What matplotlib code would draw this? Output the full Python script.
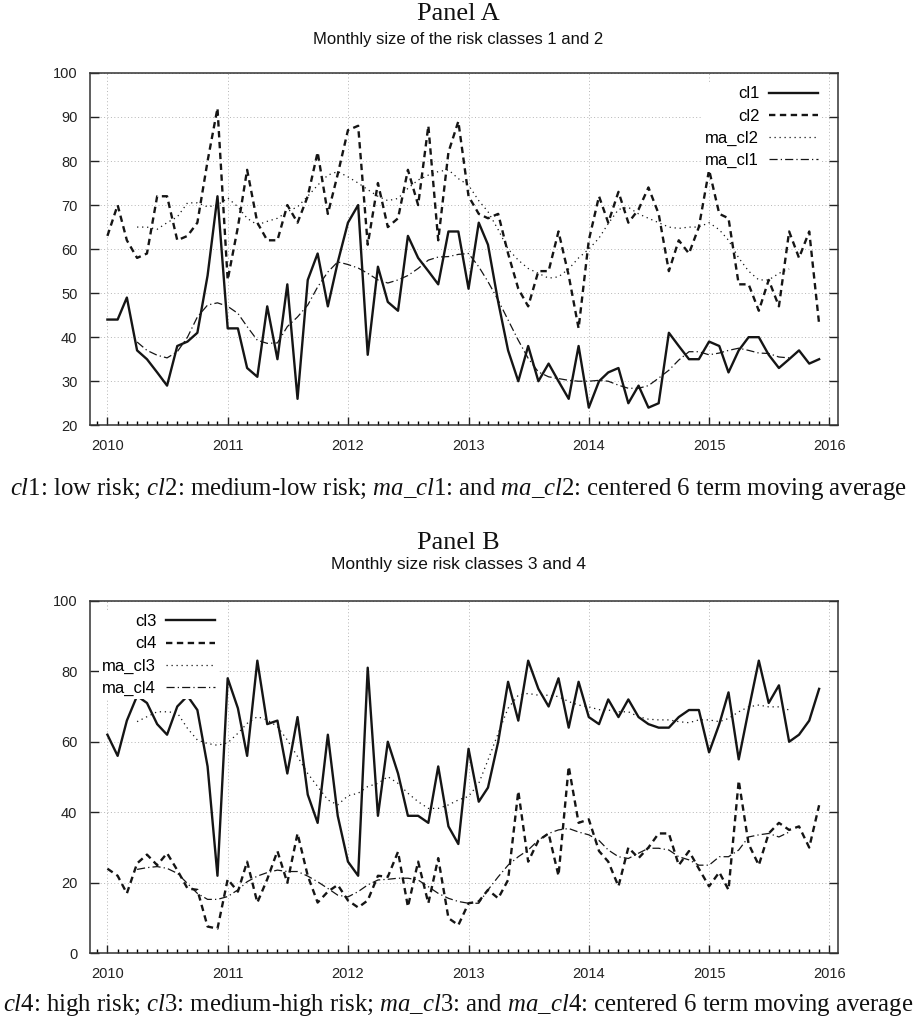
import matplotlib
matplotlib.use("Agg")
import matplotlib.pyplot as plt
import matplotlib.dates as mdates
import pandas as pd

plt.rcParams['mathtext.fontset'] = 'custom'
plt.rcParams['mathtext.rm'] = 'Liberation Serif'
plt.rcParams['mathtext.it'] = 'Liberation Serif:italic'

# Monthly observations, Jan 2010 - Dec 2015
dates = pd.date_range("2010-01-01", periods=72, freq="MS")
# centered 6 term moving average: Apr 2010 - Sep 2015
ma_dates = dates[3:69]

cl1 = [44, 44, 49, 37, 35, 32, 29, 38, 39, 41, 54, 72,
       42, 42, 33, 31, 47, 35, 52, 26, 53, 59, 47, 57,
       66, 70, 36, 56, 48, 46, 63, 58, 55, 52, 64, 64,
       51, 66, 61, 48, 37, 30, 38, 30, 34, 30, 26, 38,
       24, 30, 32, 33, 25, 29, 24, 25, 41, 38, 35, 35,
       39, 38, 32, 37, 40, 40, 36, 33, 35, 37, 34, 35]
cl2 = [63, 70, 62, 58, 59, 72, 72, 62, 63, 66, 80, 92,
       53, 65, 78, 66, 62, 62, 70, 66, 72, 82, 68, 77,
       87, 88, 61, 75, 65, 67, 78, 70, 88, 62, 82, 89,
       72, 68, 67, 68, 59, 51, 47, 55, 55, 64, 54, 42,
       62, 72, 66, 73, 66, 69, 74, 68, 55, 62, 59, 65,
       78, 68, 67, 52, 52, 46, 53, 47, 64, 58, 64, 43]
ma_cl2 = [65, 65, 64.5, 66, 67.3, 70.5, 70.5, 69.6, 70,
          71.6, 69.6, 67, 65.5, 66.3, 67, 68.5, 69.6, 72, 74.5, 76.8, 77.6,
          76.4, 75, 73.5, 72, 71, 71.5, 73.8, 75.7, 76.8, 77.6, 78, 76,
          74.5, 71, 68.5, 64.4, 60, 57.5, 55.6, 54.5, 53.4, 53.7, 55.5, 58,
          60, 62.5, 65.8, 69, 69.5, 68, 67, 66, 65, 64.7, 65, 65,
          66, 64.4, 62, 58, 55, 53, 53, 54.5, 55.5]
ma_cl1 = [38.9, 37, 35.9, 35.3, 36.7, 40, 44.6, 47.3, 47.8,
          47, 45.4, 42.4, 39.3, 38.6, 38.7, 42.4, 44.6, 47.3, 51.4, 54.8, 57.1,
          56.5, 55.7, 54.5, 53, 52.3, 53, 54, 55.6, 57.5, 58.2, 58.3, 58.8,
          59, 56, 52.6, 48.4, 43.9, 39.3, 35.2, 32.1, 31, 30.6, 30.2, 30,
          30, 30.2, 30, 29.1, 28.4, 28.4, 29, 30.7, 32.5, 34.8, 36.7, 36.7,
          36, 36.4, 37, 37.5, 37, 36.4, 36.3, 35.5, 35.3]

cl3 = [62, 56, 66, 73, 71, 65, 62, 70, 73, 69, 53, 22,
       78, 69.5, 56, 83, 65, 66, 51, 67, 45, 37, 62, 39,
       26, 22, 81, 39, 60, 51, 39, 39, 37, 53, 36, 31,
       58, 43, 47, 60, 77, 66, 83, 75, 70, 78, 64, 77,
       67, 65, 72, 67, 72, 67, 65, 64, 64, 67, 69, 69,
       57, 65, 74, 55, 69, 83, 71, 76, 60, 62, 66, 75]
cl4 = [24, 22, 17, 25.5, 28, 25, 28.4, 23.6, 18.4, 18, 7.6, 7,
       21, 17.5, 26, 14.4, 21, 29, 20, 34, 22, 14.4, 17.5, 19.4,
       15, 13, 15, 22, 21.7, 28.8, 13.2, 26, 14.2, 27, 10, 8,
       14.2, 14.7, 18, 15.6, 20.8, 46, 26, 32, 34, 22, 53, 37,
       38, 29, 26, 19, 30, 27, 30, 34, 34, 25, 29, 24,
       19, 23, 18, 49, 31, 25, 34, 37, 35, 36, 30, 42]
ma_cl3 = [65.7, 67.1, 68.5, 68.5, 68.2, 63.8, 60.5, 59.5, 59,
          59.7, 62.4, 65.2, 67.1, 66.2, 64.3, 60.5, 55.8, 51, 47.3, 43.5, 42.1,
          44.7, 45.4, 47.3, 48.2, 50.1, 48.2, 45.4, 43, 41.1, 41.1, 42.1, 43.5,
          44.5, 48.2, 54.8, 62.4, 69.5, 73.2, 73.7, 73.2, 73.2, 72.8, 71.4, 70.4,
          69.9, 69.1, 69, 68.5, 68.5, 67.1, 66.4, 66.2, 66.2, 65.7, 65.4, 66.2,
          66.2, 65.7, 66.6, 68.5, 69.9, 70.4, 69.9, 69.9, 69]
ma_cl4 = [23.8, 24.3, 24.6, 24.1, 22.7, 19.8, 17, 15.3, 15.3,
          16.1, 18, 20.3, 21.9, 22.9, 23.6, 23.2, 23.2, 21.9, 20.3, 18.4, 16.5,
          16, 17.5, 19.4, 20.8, 21, 21.3, 21.3, 20.8, 18.9, 17, 15.6, 14.7,
          14.2, 14.2, 18, 21.7, 25, 27.4, 29.3, 32.1, 34, 35, 35.4, 34.4,
          33.6, 32, 29.3, 27.4, 26.9, 28.4, 29.8, 29.8, 29.3, 27.4, 26.5, 25,
          25, 27.4, 27.4, 29.3, 33, 33.6, 34, 33, 34.4]

INK = '#151515'
SANS = 'Liberation Sans'
SERIF = 'Liberation Serif'


# one panel in the gnuplot look: inward ticks, dotted grid, key without frame
def draw_panel(ax, series, ylim, ystep, legend_loc, legend_anchor):
    styles = [dict(lw=1.7, ls='-'),
              dict(lw=1.7, ls=(0, (2.7, 1.9))),
              dict(lw=0.9, ls=(0, (1, 3))),
              dict(lw=0.9, ls=(0, (6.5, 2.5, 1, 2.5)))]
    for (x, y, label), st in zip(series, styles):
        ax.plot(x, y, color=INK, label=label, **st)

    ax.set_xlim(pd.Timestamp("2009-11-09"), pd.Timestamp("2016-01-28"))
    ax.set_ylim(*ylim)
    ax.set_yticks(range(ylim[0], ylim[1] + 1, ystep))
    ax.xaxis.set_major_locator(mdates.YearLocator())
    ax.xaxis.set_minor_locator(mdates.MonthLocator())
    ax.xaxis.set_major_formatter(mdates.DateFormatter('%Y'))

    ax.tick_params(axis='x', which='major', direction='in', length=5.8, width=1.0,
                   pad=10, labelsize=10.5, colors='#222222')
    ax.tick_params(axis='x', which='minor', direction='in', length=2.9, width=1.0)
    ax.tick_params(axis='y', which='major', direction='in', length=6.5, width=1.0,
                   right=True, pad=9, labelsize=10.5, colors='#222222')
    for lab in ax.get_xticklabels() + ax.get_yticklabels():
        lab.set_family(SANS)

    ax.grid(True, which='major', color='#b5b5b5', lw=0.7, ls=(0, (1, 2.5)))
    for sp in ax.spines.values():
        sp.set_color('#333333')
        sp.set_linewidth(1.1)

    leg = ax.legend(loc=legend_loc, bbox_to_anchor=legend_anchor, markerfirst=False,
                    frameon=True, fancybox=False, framealpha=1, facecolor='white',
                    edgecolor='none', borderpad=0.2, borderaxespad=0,
                    handlelength=2.95, handletextpad=0.6, labelspacing=0.43,
                    prop={'family': SANS, 'size': 12})
    leg.set_zorder(5)


fig = plt.figure(figsize=(9.17, 10.23), dpi=100)

ax_a = fig.add_axes([0.0981, 0.5843, 0.8160, 0.3444])
draw_panel(ax_a,
           [(dates, cl1, 'cl1'), (dates, cl2, 'cl2'),
            (ma_dates, ma_cl2, 'ma_cl2'), (ma_dates, ma_cl1, 'ma_cl1')],
           (20, 100), 10, 'upper right', (0.978, 0.971))

ax_b = fig.add_axes([0.0981, 0.0681, 0.8160, 0.3447])
draw_panel(ax_b,
           [(dates, cl3, 'cl3'), (dates, cl4, 'cl4'),
            (ma_dates, ma_cl3, 'ma_cl3'), (ma_dates, ma_cl4, 'ma_cl4')],
           (0, 100), 20, 'upper left', (0.012, 0.971))

# titles
fig.text(0.5, 0.986, 'Panel A', ha='center', va='center', family=SERIF, fontsize=19, color='#111111')
fig.text(0.5, 0.961, 'Monthly size of the risk classes 1 and 2', ha='center', va='center',
         family=SANS, fontsize=12, color='#111111')
fig.text(0.5, 0.4695, 'Panel B', ha='center', va='center', family=SERIF, fontsize=19, color='#111111')
fig.text(0.5, 0.4485, 'Monthly size risk classes 3 and 4', ha='center', va='center',
         family=SANS, fontsize=12.5, color='#111111')

# captions
fig.text(0.5, 0.522,
         r'$\mathit{cl}$1: low risk; $\mathit{cl}$2: medium-low risk; '
         r'$\mathit{ma\_cl}$1: and $\mathit{ma\_cl}$2: centered 6 term moving average',
         ha='center', va='center', family=SERIF, fontsize=17.8, color='#111111')
fig.text(0.5, 0.0175,
         r'$\mathit{cl}$4: high risk; $\mathit{cl}$3: medium-high risk; '
         r'$\mathit{ma\_cl}$3: and $\mathit{ma\_cl}$4: centered 6 term moving average',
         ha='center', va='center', family=SERIF, fontsize=17.8, color='#111111')

fig.savefig('out.png', dpi=100)
